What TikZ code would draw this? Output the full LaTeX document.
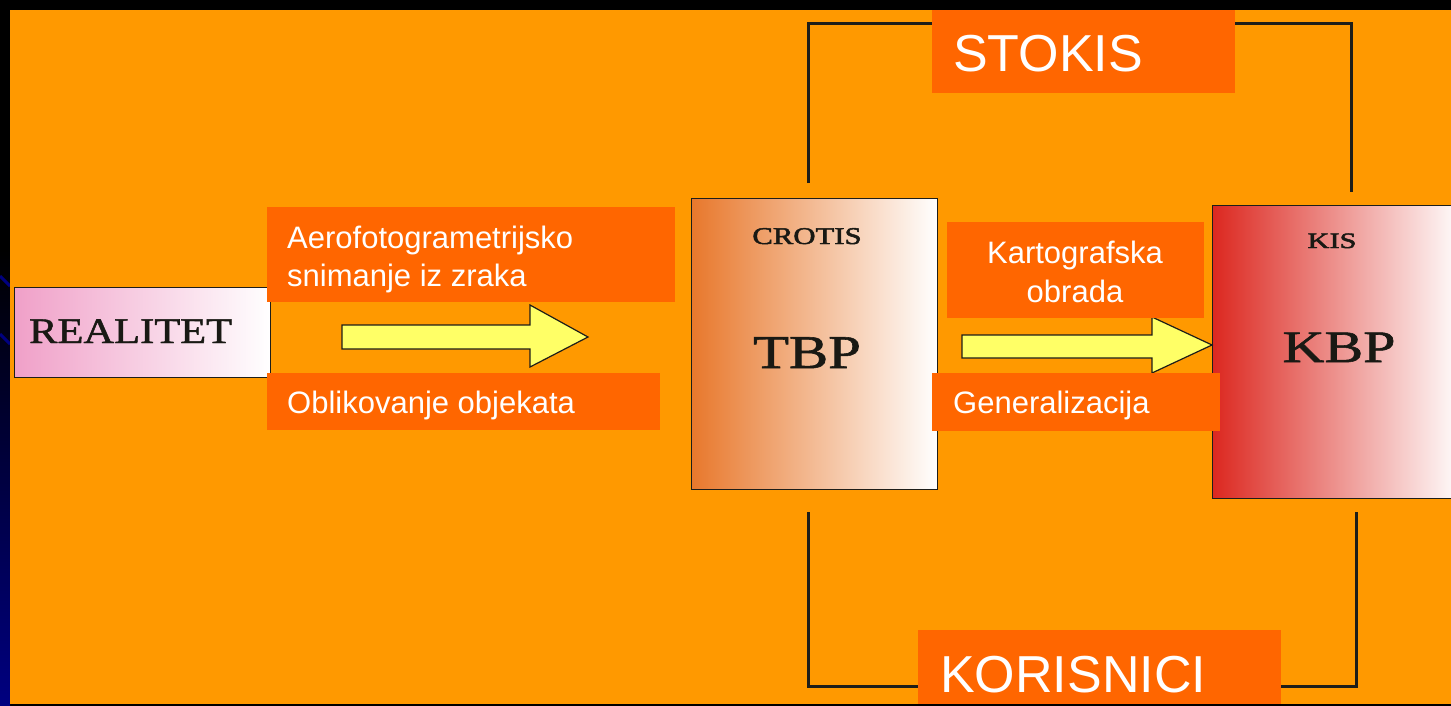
\documentclass[tikz,border=0pt]{standalone}
\usepackage{fontspec}
\setmainfont{Liberation Serif}
\newfontfamily\arialf{Liberation Sans}
\newfontfamily\serifheavy[FakeBold=1.2]{Liberation Serif}
\newfontfamily\serifheavier[FakeBold=2]{Liberation Serif}
\definecolor{bgorange}{RGB}{255,153,0}
\definecolor{lblorange}{RGB}{255,102,0}
\definecolor{arrowyellow}{RGB}{255,255,102}
\definecolor{navy}{RGB}{0,0,128}
\definecolor{linedark}{RGB}{30,30,25}
\definecolor{pinkl}{RGB}{240,160,200}
\definecolor{tbpl}{RGB}{232,120,44}
\definecolor{kbpl}{RGB}{220,40,32}
\definecolor{serifink}{RGB}{25,25,20}
\begin{document}
\begin{tikzpicture}[x=1pt,y=-1pt,
  bigbox/.style={draw=linedark, line width=1.3pt, shading=axis, shading angle=90, right color=white, inner sep=0pt, anchor=north west},
  lblbox/.style={fill=lblorange, draw=none, inner sep=0pt, anchor=north west},
  lbltext/.style={text=white, font=\arialf\fontsize{31}{38}\selectfont, inner sep=0pt},
  bigtext/.style={text=white, font=\arialf\fontsize{52}{60}\selectfont, inner sep=0pt, anchor=base west},
  serif/.style={text=serifink, inner sep=0pt, anchor=base},
  blockarrow/.style={fill=arrowyellow, draw=linedark, line width=1.2pt, line join=miter},
  bracket/.style={draw=linedark, line width=3pt}]
\useasboundingbox (0,0) rectangle (1451,706);
% background
\fill[black] (0,0) rectangle (1451,706);
\shade[top color=black, bottom color=navy] (0,250) rectangle (10,706);
\draw[navy, line width=3pt] (0,276) -- (10,286);
\draw[navy, line width=3pt] (0,334) -- (10,344);
\fill[bgorange] (10,10) rectangle (1451,704);
% brackets
\coordinate (st1) at (808,183);
\coordinate (st2) at (1351,192);
\coordinate (ko1) at (808,512);
\coordinate (ko2) at (1356,512);
\draw[bracket] (st1) |- (1351,24) -- (st2);
\draw[bracket] (ko1) |- (1356,686) -- (ko2);
% big boxes
\node[bigbox, left color=pinkl, minimum width=256pt, minimum height=90pt] (real) at (14,287) {};
\node[bigbox, left color=tbpl, minimum width=246pt, minimum height=291pt] (tbp) at (691,198) {};
\node[bigbox, left color=kbpl, minimum width=250pt, minimum height=293pt] (kbp) at (1212,205) {};
\node[serif, anchor=base west, font=\serifheavy\fontsize{36}{40}\selectfont] (realt) at (29,343) {\scalebox{1.18}[1]{REALITET}};
\node[serif, font=\serifheavier\fontsize{24}{28}\selectfont] (crotis) at (807,244) {\scalebox{1.28}[1]{CROTIS}};
\node[serif, font=\serifheavy\fontsize{47}{52}\selectfont] (tbpt) at (807,368) {\scalebox{1.25}[1]{TBP}};
\node[serif, font=\serifheavier\fontsize{22}{26}\selectfont] (kis) at (1332,248) {\scalebox{1.38}[1]{KIS}};
\node[serif, font=\serifheavy\fontsize{45}{50}\selectfont] (kbpt) at (1339,362) {\scalebox{1.29}[1]{KBP}};
% block arrows
\draw[blockarrow] (342,325) -- (530,325) -- (530,305) -- (588,337) -- (530,367) -- (530,349) -- (342,349) -- cycle;
\draw[blockarrow] (962,335) -- (1152,335) -- (1152,317) -- (1212,345) -- (1152,373) -- (1152,358) -- (962,358) -- cycle;
% label boxes
\node[lblbox, minimum width=408pt, minimum height=95pt] (aerobox) at (267,207) {};
\node[lblbox, minimum width=393pt, minimum height=57pt] (oblikbox) at (267,373) {};
\node[lblbox, minimum width=257pt, minimum height=96pt] (kartobox) at (947,222) {};
\node[lblbox, minimum width=288pt, minimum height=58pt] (genbox) at (932,373) {};
\node[lblbox, minimum width=303pt, minimum height=83pt] (stokisbox) at (932,10) {};
\node[lblbox, minimum width=363pt, minimum height=74pt] (korbox) at (918,630) {};
% label texts
\node[lbltext, anchor=base west] (aero1) at (287,248) {Aerofotogrametrijsko};
\node[lbltext, anchor=base west] (aero2) at (287,286) {snimanje iz zraka};
\node[lbltext, anchor=base west] (oblik) at (287,413) {Oblikovanje objekata};
\node[lbltext, anchor=base] (karto1) at (1075,263) {Kartografska};
\node[lbltext, anchor=base] (karto2) at (1075,302) {obrada};
\node[lbltext, anchor=base west] (gen) at (953,413) {Generalizacija};
\node[bigtext] (stokis) at (953,72) {STOKIS};
\node[bigtext] (kor) at (940,692) {KORISNICI};
\end{tikzpicture}
\end{document}
